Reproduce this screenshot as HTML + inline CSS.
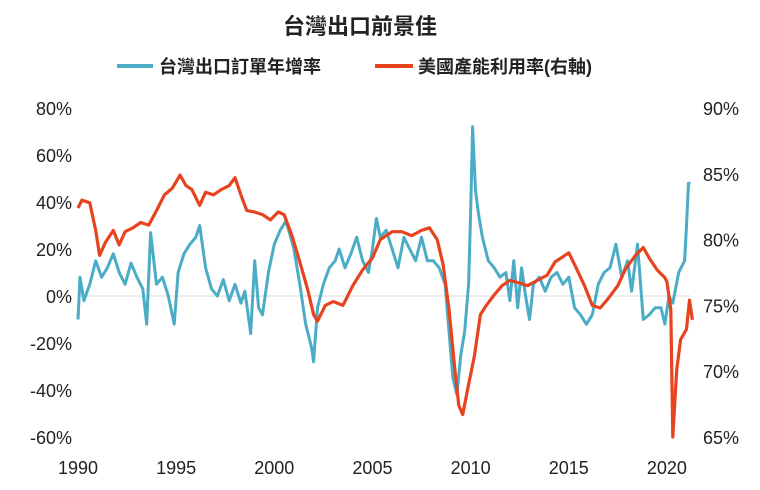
<!DOCTYPE html>
<html><head><meta charset="utf-8">
<style>
body{margin:0;background:#fff;}
svg text{font-family:"Liberation Sans","Noto Sans CJK TC",sans-serif;}
</style></head>
<body>
<svg id="chart" width="760" height="485" viewBox="0 0 760 485" xmlns="http://www.w3.org/2000/svg">
<text x="360" y="34" text-anchor="middle" font-size="22" font-weight="bold" fill="#222">台灣出口前景佳</text>
<g>
<line x1="117" y1="66" x2="153" y2="66" stroke="#4bacc6" stroke-width="4"/>
<text x="159" y="73" font-size="18" font-weight="bold" fill="#222">台灣出口訂單年增率</text>
<line x1="375" y1="66" x2="413" y2="66" stroke="#e8431f" stroke-width="4"/>
<text x="418" y="73" font-size="18" font-weight="bold" fill="#222">美國產能利用率(右軸)</text>
</g>
<g id="axes"></g>
<g id="series"></g>
</svg>
<script>
const leftTicks=[80,60,40,20,0,-20,-40,-60];
const rightTicks=[90,85,80,75,70,65];
const yearTicks=[1990,1995,2000,2005,2010,2015,2020];
const ordersT=[1990.0,1990.1,1990.3,1990.6,1990.9,1991.2,1991.5,1991.8,1992.1,1992.4,1992.7,1993.0,1993.3,1993.5,1993.7,1994.0,1994.3,1994.6,1994.9,1995.1,1995.4,1995.7,1996.0,1996.2,1996.5,1996.8,1997.1,1997.4,1997.7,1998.0,1998.3,1998.5,1998.8,1999.0,1999.2,1999.4,1999.7,2000.0,2000.3,2000.6,2001.0,2001.3,2001.6,2001.9,2002.0,2002.2,2002.5,2002.8,2003.1,2003.3,2003.6,2003.9,2004.2,2004.5,2004.8,2005.0,2005.2,2005.4,2005.7,2006.0,2006.3,2006.6,2006.9,2007.2,2007.5,2007.8,2008.1,2008.4,2008.7,2008.9,2009.1,2009.3,2009.5,2009.7,2009.9,2010.0,2010.1,2010.25,2010.4,2010.6,2010.9,2011.2,2011.5,2011.8,2012.0,2012.2,2012.4,2012.6,2012.8,2013.0,2013.2,2013.5,2013.8,2014.1,2014.4,2014.7,2015.0,2015.3,2015.6,2015.9,2016.2,2016.5,2016.8,2017.1,2017.4,2017.7,2018.0,2018.2,2018.5,2018.8,2019.1,2019.4,2019.7,2019.9,2020.1,2020.3,2020.6,2020.9,2021.0,2021.1,2021.2];
const ordersV=[-10,8,-2,5,15,8,12,18,10,5,14,8,3,-12,27,5,8,0,-12,10,18,22,25,30,12,3,0,7,-2,5,-3,2,-16,15,-5,-8,10,22,28,32,20,5,-12,-22,-28,-5,5,12,15,20,12,18,25,15,10,20,33,25,28,20,12,25,20,15,25,15,15,12,5,-15,-35,-42,-25,-15,5,35,72,45,35,25,15,12,8,10,-2,15,-5,12,0,-10,5,8,2,8,10,5,8,-5,-8,-12,-8,5,10,12,22,8,15,2,22,-10,-8,-5,-5,-12,0,-3,10,15,30,48,48];
const capT=[1990.0,1990.2,1990.6,1990.9,1991.1,1991.4,1991.8,1992.1,1992.4,1992.8,1993.2,1993.6,1994.0,1994.4,1994.8,1995.2,1995.5,1995.8,1996.2,1996.5,1996.9,1997.3,1997.7,1998.0,1998.3,1998.6,1999.0,1999.4,1999.8,2000.2,2000.5,2000.9,2001.3,2001.7,2002.0,2002.2,2002.6,2003.0,2003.5,2004.0,2004.5,2005.0,2005.4,2006.0,2006.5,2007.0,2007.5,2007.9,2008.3,2008.6,2008.9,2009.2,2009.4,2009.6,2009.9,2010.2,2010.5,2010.8,2011.2,2011.6,2012.0,2012.5,2012.9,2013.4,2013.9,2014.3,2014.8,2015.0,2015.3,2015.8,2016.2,2016.6,2017.0,2017.5,2017.9,2018.4,2018.8,2019.1,2019.5,2019.9,2020.0,2020.2,2020.3,2020.5,2020.7,2021.0,2021.15,2021.3];
const capV=[82.4,83.0,82.8,80.7,78.8,79.8,80.7,79.6,80.6,80.9,81.3,81.1,82.2,83.4,83.9,84.9,84.1,83.8,82.6,83.6,83.4,83.8,84.1,84.7,83.4,82.2,82.1,81.9,81.5,82.1,81.9,80.3,78.3,76.2,74.3,73.8,75.0,75.3,75.0,76.5,77.7,78.6,80.0,80.6,80.6,80.3,80.7,80.9,80.0,78.1,74.7,70.1,67.4,66.7,69.0,71.2,74.3,75.0,75.8,76.5,76.9,76.7,76.5,76.9,77.3,78.3,78.8,79.0,78.1,76.5,75.0,74.8,75.5,76.5,77.8,78.8,79.4,78.6,77.7,77.1,76.8,74.7,65.0,70.1,72.4,73.2,75.4,73.9];

const NS="http://www.w3.org/2000/svg";
function x(yr){return 78+(yr-1990)*19.63;}
function yL(v){return 296-v*2.35;}
function yR(v){return 108+(90-v)*13.16;}
const axes=document.getElementById('axes');
const series=document.getElementById('series');
function mk(tag,attrs,parent,txt){const e=document.createElementNS(NS,tag);for(const k in attrs)e.setAttribute(k,attrs[k]);if(txt!==undefined)e.textContent=txt;parent.appendChild(e);return e;}

const zl=mk('line',{x1:78,x2:690,y1:yL(0),y2:yL(0),stroke:'#d9d9d9','stroke-width':1},axes);


leftTicks.forEach(v=>{
  const t=mk('text',{x:72,y:yL(v)+7,'text-anchor':'end','font-size':18,fill:'#222'},axes,v+'%');
  
  
});
rightTicks.forEach(v=>{
  const t=mk('text',{x:703,y:yR(v)+7,'font-size':18,fill:'#222'},axes,v+'%');
  
  
});
yearTicks.forEach(v=>{
  const t=mk('text',{x:x(v),y:474,'text-anchor':'middle','font-size':18,fill:'#222'},axes,String(v));
  
  
});
function path(ts,vs,yf){return ts.map((t,i)=>(i?'L':'M')+x(t).toFixed(1)+','+yf(vs[i]).toFixed(1)).join('');}
const p1=mk('path',{d:path(ordersT,ordersV,yL),fill:'none',stroke:'#4bacc6','stroke-width':3,'stroke-linejoin':'round'},series);


const p2=mk('path',{d:path(capT,capV,yR),fill:'none',stroke:'#e8431f','stroke-width':3.2,'stroke-linejoin':'round'},series);


</script>
</body></html>
